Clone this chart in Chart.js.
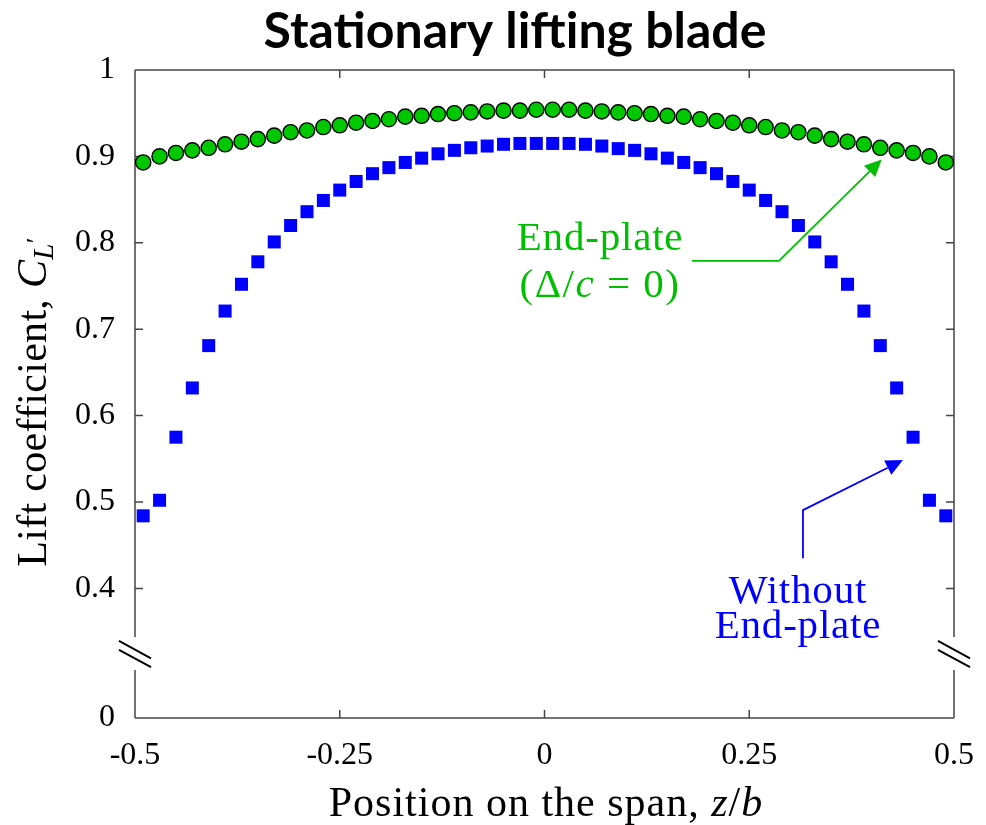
<!DOCTYPE html>
<html>
<head>
<meta charset="utf-8">
<script src="https://cdn.jsdelivr.net/npm/chart.js@4.4.1/dist/chart.umd.min.js"></script>
<style>
html, body { margin: 0; padding: 0; background: #fff; }
</style>
</head>
<body>
<canvas id="c" width="986" height="825"></canvas>
<script>
// Spannweiten-Positionen z/b
const positions = [
  -0.49, -0.47, -0.45, -0.43, -0.41, -0.39, -0.37, -0.35, -0.33, -0.31,
  -0.29, -0.27, -0.25, -0.23, -0.21, -0.19, -0.17, -0.15, -0.13, -0.11,
  -0.09, -0.07, -0.05, -0.03, -0.01, 0.01, 0.03, 0.05, 0.07, 0.09,
  0.11, 0.13, 0.15, 0.17, 0.19, 0.21, 0.23, 0.25, 0.27, 0.29,
  0.31, 0.33, 0.35, 0.37, 0.39, 0.41, 0.43, 0.45, 0.47, 0.49
];

// mit Endplatte (gruene Kreise)
const withEndPlate = [
  0.893, 0.900, 0.904, 0.907, 0.910, 0.914, 0.917, 0.920, 0.924, 0.928,
  0.930, 0.934, 0.936, 0.939, 0.941, 0.943, 0.946, 0.947, 0.949, 0.950,
  0.951, 0.952, 0.953, 0.953, 0.954, 0.954, 0.954, 0.953, 0.952, 0.951,
  0.950, 0.949, 0.947, 0.946, 0.943, 0.941, 0.939, 0.936, 0.934, 0.930,
  0.928, 0.924, 0.920, 0.917, 0.914, 0.910, 0.907, 0.904, 0.900, 0.893
];

// ohne Endplatte (blaue Quadrate)
const withoutEndPlate = [
  0.484, 0.502, 0.575, 0.632, 0.681, 0.721, 0.752, 0.778, 0.801, 0.820,
  0.836, 0.849, 0.861, 0.871, 0.880, 0.887, 0.893, 0.898, 0.903, 0.907,
  0.910, 0.912, 0.914, 0.915, 0.915, 0.915, 0.915, 0.914, 0.912, 0.909,
  0.907, 0.903, 0.898, 0.893, 0.887, 0.880, 0.871, 0.861, 0.849, 0.836,
  0.820, 0.801, 0.778, 0.752, 0.721, 0.681, 0.632, 0.575, 0.502, 0.484
];

const xTicks = [-0.5, -0.25, 0, 0.25, 0.5];
const xTickLabels = ['-0.5', '-0.25', '0', '0.25', '0.5'];
// 0 sitzt unterhalb des Achsenbruchs bei 0.25
const yTicks = [0.25, 0.4, 0.5, 0.6, 0.7, 0.8, 0.9, 1];
const yTickLabels = ['0', '0.4', '0.5', '0.6', '0.7', '0.8', '0.9', '1'];
const axisBreak = 0.324;

const SERIF = '"Liberation Serif", "Times New Roman", serif';
const GREEN = '#00bf00';
const BLUE = '#0000ff';

// Text aus mehreren Stuecken (fuer kursive Formelteile)
function drawParts(ctx, parts, x, y, spacing) {
  ctx.letterSpacing = (spacing || 0) + 'px';
  let total = 0;
  parts.forEach(p => { ctx.font = p.font; p.w = ctx.measureText(p.t).width; total += p.w; });
  let cx = x - total / 2;
  parts.forEach(p => {
    ctx.font = p.font;
    ctx.fillText(p.t, cx, y + (p.dy || 0));
    cx += p.w;
  });
  ctx.letterSpacing = '0px';
}

function arrow(ctx, pts, color) {
  const [tx, ty] = pts[pts.length - 1];
  const [px, py] = pts[pts.length - 2];
  const ang = Math.atan2(ty - py, tx - px);
  const len = 17, hw = 8;
  const bx = tx - len * Math.cos(ang), by = ty - len * Math.sin(ang);
  ctx.strokeStyle = color;
  ctx.fillStyle = color;
  ctx.lineWidth = 1.8;
  ctx.beginPath();
  ctx.moveTo(pts[0][0], pts[0][1]);
  for (let i = 1; i < pts.length - 1; i++) ctx.lineTo(pts[i][0], pts[i][1]);
  ctx.lineTo(bx, by);
  ctx.stroke();
  ctx.beginPath();
  ctx.moveTo(tx, ty);
  ctx.lineTo(bx + hw * Math.sin(ang), by - hw * Math.cos(ang));
  ctx.lineTo(bx - hw * Math.sin(ang), by + hw * Math.cos(ang));
  ctx.closePath();
  ctx.fill();
}

// Rahmen, Tick-Striche nach innen, Achsenbruch
const framePlugin = {
  id: 'frame',
  beforeDatasetsDraw(chart) {
    const { ctx, chartArea: a, scales: { x, y } } = chart;
    const yb = y.getPixelForValue(axisBreak);
    ctx.save();
    ctx.strokeStyle = '#444';
    ctx.lineWidth = 1.5;
    ctx.beginPath();
    ctx.moveTo(a.left, a.top); ctx.lineTo(a.right, a.top);
    ctx.moveTo(a.left, a.bottom); ctx.lineTo(a.right, a.bottom);
    [a.left, a.right].forEach(px => {
      ctx.moveTo(px, a.top); ctx.lineTo(px, yb - 17);
      ctx.moveTo(px, yb + 16); ctx.lineTo(px, a.bottom);
    });
    yTicks.slice(1, -1).forEach(v => {
      const py = y.getPixelForValue(v);
      ctx.moveTo(a.left, py); ctx.lineTo(a.left + 8, py);
      ctx.moveTo(a.right, py); ctx.lineTo(a.right - 8, py);
    });
    xTicks.slice(1, -1).forEach(v => {
      const px = x.getPixelForValue(v);
      ctx.moveTo(px, a.bottom); ctx.lineTo(px, a.bottom - 8);
      ctx.moveTo(px, a.top); ctx.lineTo(px, a.top + 8);
    });
    ctx.stroke();
    ctx.strokeStyle = '#000';
    ctx.lineWidth = 2;
    ctx.beginPath();
    [a.left, a.right].forEach(px => {
      [-4.4, 4.4].forEach(off => {
        ctx.moveTo(px - 16, yb + off - 8.7);
        ctx.lineTo(px + 16, yb + off + 8.7);
      });
    });
    ctx.stroke();
    ctx.restore();
  }
};

// Beschriftungen, Pfeile, Achsentitel
const textPlugin = {
  id: 'texts',
  afterDatasetsDraw(chart) {
    const { ctx, scales: { x, y } } = chart;
    const P = (vx, vy) => [x.getPixelForValue(vx), y.getPixelForValue(vy)];
    ctx.save();
    ctx.textAlign = 'left';
    ctx.textBaseline = 'alphabetic';

    arrow(ctx, [P(0.180, 0.779), P(0.2863, 0.779), P(0.4117, 0.8965)], GREEN);
    arrow(ctx, [P(0.3156, 0.435), P(0.3156, 0.4906), P(0.4377, 0.5485)], BLUE);

    const f = '41px ' + SERIF, fi = 'italic 41px ' + SERIF;
    ctx.fillStyle = GREEN;
    let [gx, gy] = P(0.0678, 0.7916);
    drawParts(ctx, [{ t: 'End-plate', font: f }], gx, gy, 0.8);
    [gx, gy] = P(0.0678, 0.7375);
    drawParts(ctx, [
      { t: '(\u0394/', font: f }, { t: 'c', font: fi }, { t: ' = 0)', font: f }
    ], gx, gy, 1.5);

    ctx.fillStyle = BLUE;
    let [bx, by] = P(0.3095, 0.383);
    drawParts(ctx, [{ t: 'Without', font: f }], bx, by, 0.8);
    [bx, by] = P(0.3095, 0.3425);
    drawParts(ctx, [{ t: 'End-plate', font: f }], bx, by, 0.8);

    // Achsentitel
    ctx.fillStyle = '#000';
    const af = '42px ' + SERIF, afi = 'italic 42px ' + SERIF;
    drawParts(ctx, [
      { t: 'Position on the span, ', font: af },
      { t: 'z', font: afi }, { t: '/', font: af }, { t: 'b', font: afi }
    ], 546, 816, 1);

    ctx.save();
    ctx.translate(46, 402);
    ctx.rotate(-Math.PI / 2);
    drawParts(ctx, [
      { t: 'Lift coefficient, ', font: af },
      { t: 'C', font: afi },
      { t: 'L', font: 'italic 29px ' + SERIF, dy: 7 },
      { t: '\u2032', font: '26px ' + SERIF, dy: -2 }
    ], 0, 0, 0.3);
    ctx.restore();

    // Titel
    ctx.font = 'bold 50px Lato, "Open Sans", sans-serif';
    ctx.textAlign = 'center';
    ctx.fillText('Stationary lifting blade', 515, 48);
    ctx.restore();
  }
};

new Chart(document.getElementById('c'), {
  type: 'scatter',
  data: {
    datasets: [
      {
        label: 'Without End-plate',
        data: positions.map((p, i) => ({ x: p, y: withoutEndPlate[i] })),
        pointStyle: 'rect',
        pointRadius: 9.2,
        backgroundColor: BLUE,
        borderColor: BLUE,
        borderWidth: 0
      },
      {
        label: 'End-plate',
        data: positions.map((p, i) => ({ x: p, y: withEndPlate[i] })),
        pointStyle: 'circle',
        pointRadius: 7.6,
        backgroundColor: '#00c800',
        borderColor: '#000',
        borderWidth: 1.4
      }
    ]
  },
  options: {
    responsive: false,
    animation: false,
    devicePixelRatio: 1,
    layout: { padding: { top: 70, right: 32, left: 0, bottom: 0 } },
    plugins: { legend: { display: false }, tooltip: { enabled: false } },
    scales: {
      x: {
        type: 'linear', min: -0.5, max: 0.5,
        grid: { display: false, drawTicks: false, tickLength: 0 },
        border: { display: false },
        afterBuildTicks: s => { s.ticks = xTicks.map(v => ({ value: v })); },
        afterFit: s => { s.height = 107; s.paddingLeft = 0; s.paddingRight = 0; },
        ticks: {
          padding: 18, color: '#000', maxRotation: 0, autoSkip: false,
          font: { family: SERIF, size: 32 },
          callback: (v, i) => xTickLabels[i]
        }
      },
      y: {
        type: 'linear', min: 0.25, max: 1,
        grid: { display: false, drawTicks: false, tickLength: 0 },
        border: { display: false },
        afterBuildTicks: s => { s.ticks = yTicks.map(v => ({ value: v })); },
        afterFit: s => { s.width = 135; s.paddingTop = 0; s.paddingBottom = 0; },
        ticks: {
          padding: 20, color: '#000', autoSkip: false,
          font: { family: SERIF, size: 32 },
          callback: (v, i) => yTickLabels[i]
        }
      }
    }
  },
  plugins: [framePlugin, textPlugin]
});
</script>
</body>
</html>
